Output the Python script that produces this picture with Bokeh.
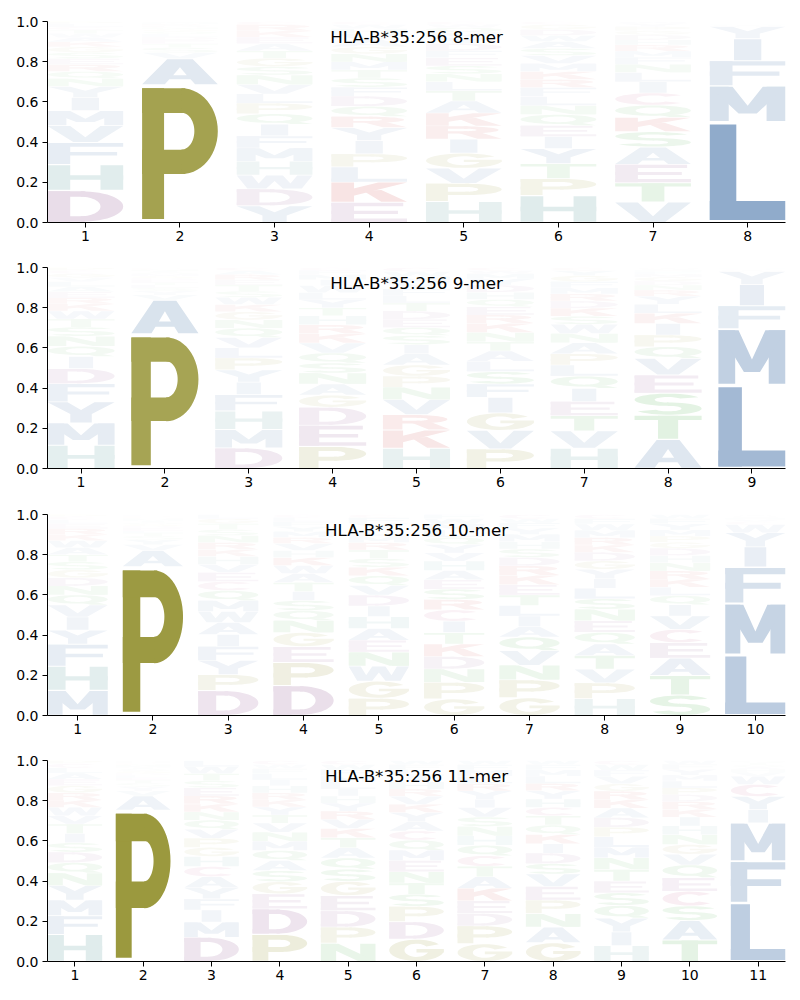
import math
from bokeh.plotting import figure
from bokeh.layouts import column
from bokeh.models import ColumnDataSource, FixedTicker, Range1d, NumeralTickFormatter
from bokeh.embed import file_html
from bokeh.resources import INLINE
from bokeh.core.properties import value

ALLELE = "HLA-B*35:256"

# ---------------- data (letters per position, probability per letter) ----------------
mer8_aa = [
    "DHFVMIYNQRESGKAWTCLP",
    "PAVSTEDLQGNRKMI",
    "YDWHMFIQPLVNSGTAEKRC",
    "EKLPIYQRDFSTMNGAVHWC",
    "HPVGIRKATLNSEFDYMQWC",
    "HPTYIEQNLFRKMVSAWDGC",
    "VTEASKQCILNFMRHDGPYW",
    "LMFIYWVHACQTKRS",
]
mer8_p = [
    [.16, .13, .11, .085, .075, .065, .055, .04, .035, .035, .03, .03, .028, .025, .022, .02, .018, .015, .015, .012],
    [.685, .13, .03, .025, .02, .018, .016, .014, .012, .011, .01, .009, .008, .007, .005],
    [.08, .08, .066, .066, .063, .058, .055, .05, .05, .045, .045, .045, .04, .04, .035, .035, .03, .03, .03, .015],
    [.10, .10, .075, .065, .065, .065, .05, .055, .05, .045, .045, .04, .04, .04, .035, .035, .03, .025, .02, .015],
    [.105, .09, .075, .075, .07, .065, .065, .06, .05, .045, .04, .04, .04, .035, .035, .03, .025, .025, .015, .015],
    [.135, .085, .075, .075, .06, .055, .055, .045, .045, .045, .04, .04, .04, .04, .035, .035, .03, .03, .025, .015],
    [.10, .095, .09, .085, .075, .07, .06, .06, .055, .045, .04, .035, .03, .03, .025, .025, .02, .02, .015, .01],
    [.50, .18, .125, .11, .06, .006, .004, .003, .002, .002, .002, .002, .002, .001, .001],
]

mer9_aa = [
    "HMYFDIQNSTWKREALVGCP",
    "PAVYSLTEDGMQINKR",
    "DMHFIYPLVQNGKWSTERAC",
    "PEDGANSQVKRHTYLWIMFC",
    "HKRVNPGAISQEDTLFYMWC",
    "PVGIFSLATNKREQHDYMWC",
    "HVTEIQLPANWSKDRMFGYC",
    "ATSEVQPIKLYRNDGMFHWC",
    "LMFIYWVCHAQ",
]
mer9_p = [
    [.115, .11, .105, .09, .075, .06, .05, .05, .045, .04, .04, .035, .03, .03, .025, .025, .02, .02, .015, .015],
    [.67, .17, .025, .02, .015, .015, .012, .012, .01, .01, .01, .008, .008, .007, .005, .005],
    [.10, .09, .09, .08, .06, .06, .058, .05, .05, .045, .04, .04, .035, .035, .03, .03, .025, .025, .02, .015],
    [.11, .105, .09, .06, .055, .055, .05, .05, .05, .045, .045, .045, .04, .04, .035, .035, .03, .025, .02, .015],
    [.10, .09, .075, .075, .06, .055, .055, .055, .045, .045, .04, .04, .04, .04, .035, .035, .03, .03, .025, .02],
    [.095, .09, .085, .075, .065, .06, .05, .05, .045, .045, .045, .04, .04, .035, .035, .035, .03, .025, .015, .015],
    [.10, .085, .075, .07, .065, .06, .055, .055, .055, .045, .045, .04, .04, .035, .035, .03, .03, .03, .025, .015],
    [.145, .12, .11, .09, .083, .058, .058, .058, .05, .045, .04, .03, .025, .02, .02, .015, .012, .01, .006, .005],
    [.415, .28, .115, .105, .065, .006, .004, .003, .003, .002, .002],
]

mer10_aa = [
    "MHFYIVQNDGSTAWKRELCP",
    "PAVYSTLEDGQIMNKRFH",
    "DPYFIAWMQCEVHKRNSTGL",
    "DPEGNQSITAWKHVRMYFLC",
    "PGWNEAHIDVQKSTRMLYFC",
    "GPNDKTICRSEAHVYQLMWF",
    "GPNVQAILTEKRDSHMYFWC",
    "HPVTAQENSLIYGDKRMWFC",
    "STAECVIQLKRNHDGPMYFW",
    "LMFIYWCVHAQT",
]
mer10_p = [
    [.125, .12, .11, .07, .065, .06, .05, .045, .04, .04, .04, .035, .035, .035, .03, .03, .025, .02, .015, .01],
    [.74, .08, .03, .025, .018, .015, .012, .012, .01, .01, .008, .008, .008, .006, .005, .005, .004, .004],
    [.125, .08, .07, .07, .06, .06, .055, .055, .05, .045, .045, .04, .04, .035, .035, .035, .03, .03, .025, .02],
    [.15, .115, .08, .07, .06, .05, .05, .045, .045, .045, .04, .04, .035, .035, .03, .03, .025, .025, .02, .015],
    [.08, .08, .07, .065, .055, .055, .055, .05, .05, .045, .045, .04, .04, .04, .035, .03, .03, .03, .025, .015],
    [.08, .08, .065, .06, .06, .055, .055, .055, .05, .05, .045, .045, .045, .04, .04, .035, .035, .03, .025, .02],
    [.085, .085, .07, .07, .065, .05, .05, .05, .05, .05, .045, .045, .04, .04, .035, .035, .03, .025, .02, .02],
    [.08, .075, .065, .065, .055, .055, .055, .055, .05, .05, .045, .045, .04, .04, .035, .035, .035, .03, .025, .02],
    [.10, .095, .085, .075, .065, .065, .055, .045, .04, .04, .04, .04, .035, .035, .03, .03, .03, .03, .025, .02],
    [.30, .255, .18, .10, .07, .04, .015, .01, .008, .006, .006, .005],
]

mer11_aa = [
    "HFMYNQDSITVWKRGEALCP",
    "PAVYSTELDGQIMNKRHF",
    "DMIFYACHGPVQNKRESTWL",
    "PDEGSAQMNVTYKRHILFWC",
    "NPDEGSQATKVRYHILMFWC",
    "GDPSTNEMQCAYKVRHILFW",
    "GPDEKATCQHNSVIYRLMFW",
    "GANPEVSDIKQTCHYRLMFW",
    "HIYQSETNMLPDAKRGVFWC",
    "TASCEQVGNHIKRDPLMYFW",
    "LFMIYCWVHAQTSN",
]
mer11_p = [
    [.13, .09, .075, .07, .06, .05, .05, .045, .045, .045, .04, .04, .035, .035, .035, .03, .03, .025, .02, .015],
    [.75, .07, .025, .02, .018, .015, .012, .012, .01, .01, .01, .008, .008, .007, .005, .005, .005, .005],
    [.12, .075, .06, .055, .055, .055, .05, .05, .045, .045, .045, .045, .04, .04, .04, .04, .035, .035, .035, .03],
    [.135, .125, .075, .06, .055, .05, .05, .045, .045, .045, .04, .04, .035, .035, .035, .03, .03, .025, .02, .02],
    [.09, .08, .08, .075, .07, .06, .055, .05, .05, .045, .045, .04, .04, .035, .035, .035, .03, .03, .025, .02],
    [.11, .085, .075, .06, .055, .055, .055, .05, .05, .045, .045, .045, .04, .04, .035, .035, .03, .03, .025, .02],
    [.085, .085, .06, .06, .06, .055, .05, .05, .05, .045, .045, .045, .045, .04, .04, .035, .035, .03, .025, .02],
    [.09, .075, .065, .065, .065, .06, .05, .05, .045, .045, .045, .045, .04, .04, .04, .035, .035, .03, .025, .02],
    [.075, .065, .065, .06, .06, .055, .055, .055, .05, .05, .045, .045, .045, .04, .04, .035, .035, .03, .025, .02],
    [.11, .10, .075, .075, .07, .065, .055, .05, .05, .045, .045, .04, .04, .035, .035, .035, .03, .03, .025, .02],
    [.29, .205, .19, .065, .065, .06, .04, .02, .015, .01, .01, .01, .008, .005],
]

# ---------------- colours ----------------
BASE = {
    "blue": (87, 128, 176),
    "olive": (154, 152, 61),
    "purple": (150, 92, 150),
    "teal": (80, 150, 150),
    "red": (200, 55, 55),
    "green": (70, 170, 70),
    "pink": (190, 80, 130),
}
GROUP = {}
for aa in "AVILMFWY":
    GROUP[aa] = "blue"
for aa in "GP":
    GROUP[aa] = "olive"
for aa in "DE":
    GROUP[aa] = "purple"
for aa in "KR":
    GROUP[aa] = "red"
for aa in "STNQ":
    GROUP[aa] = "green"
GROUP["H"] = "teal"
GROUP["C"] = "pink"


def blend(rgb, a):
    r, g, b = (round(255 - a * (255 - c)) for c in rgb)
    return "#%02x%02x%02x" % (r, g, b)


# ---------------- letter outlines in a unit box ----------------
def arc(cx, cy, rx, ry, a0, a1, n=28):
    out = []
    for k in range(n + 1):
        t = math.radians(a0 + (a1 - a0) * k / n)
        out.append((cx + rx * math.cos(t), cy + ry * math.sin(t)))
    return out


def band(cx, cy, rxo, ryo, rxi, ryi, a0, a1, n=28):
    return arc(cx, cy, rxo, ryo, a0, a1, n) + arc(cx, cy, rxi, ryi, a1, a0, n)


def rect(x0, y0, x1, y1):
    return [(x0, y0), (x1, y0), (x1, y1), (x0, y1)]


SHAPES = {
    "A": [([(0, 0), (0.33, 1), (0.67, 1), (1, 0), (0.7, 0), (0.64, 0.2), (0.36, 0.2), (0.3, 0)], False),
          ([(0.41, 0.36), (0.5, 0.68), (0.59, 0.36)], True)],
    "C": [(band(0.5, 0.5, 0.5, 0.5, 0.22, 0.31, 42, 318), False)],
    "D": [(rect(0, 0, 0.3, 1), False), (rect(0, 0.82, 0.5, 1), False), (rect(0, 0, 0.5, 0.18), False),
          (band(0.44, 0.5, 0.56, 0.5, 0.26, 0.32, -90, 90), False)],
    "E": [(rect(0, 0, 0.3, 1), False), (rect(0, 0.82, 0.95, 1), False), (rect(0, 0.42, 0.88, 0.59), False),
          (rect(0, 0, 1, 0.18), False)],
    "F": [(rect(0, 0, 0.3, 1), False), (rect(0, 0.82, 1, 1), False), (rect(0, 0.4, 0.92, 0.57), False)],
    "G": [(band(0.5, 0.5, 0.5, 0.5, 0.22, 0.31, 35, 360), False), (rect(0.5, 0.4, 1.0, 0.56), False)],
    "H": [(rect(0, 0, 0.3, 1), False), (rect(0.7, 0, 1, 1), False), (rect(0, 0.41, 1, 0.59), False)],
    "I": [(rect(0.32, 0, 0.68, 1), False)],
    "K": [(rect(0, 0, 0.3, 1), False), ([(0.28, 0.3), (1, 1), (0.62, 1), (0.28, 0.68)], False),
          ([(0.42, 0.58), (0.66, 0.62), (1, 0), (0.66, 0)], False)],
    "L": [(rect(0, 0, 0.35, 1), False), (rect(0, 0, 1, 0.2), False)],
    "M": [(rect(0, 0, 0.25, 1), False), (rect(0.75, 0, 1, 1), False),
          ([(0, 1), (0.3, 1), (0.5, 0.45), (0.7, 1), (1, 1), (0.62, 0.22), (0.38, 0.22)], False)],
    "N": [(rect(0, 0, 0.28, 1), False), (rect(0.72, 0, 1, 1), False), ([(0, 1), (0.32, 1), (1, 0), (0.68, 0)], False)],
    "P": [(rect(0, 0, 0.29, 1), False), (rect(0, 0.81, 0.57, 1), False), (rect(0, 0.345, 0.57, 0.53), False),
          (band(0.52, 0.672, 0.48, 0.328, 0.17, 0.141, -90, 90), False)],
    "Q": [(band(0.5, 0.56, 0.5, 0.44, 0.23, 0.27, 0, 360, 56), False),
          ([(0.55, 0.22), (0.82, 0.22), (1, 0), (0.72, 0)], False)],
    "R": [(rect(0, 0, 0.29, 1), False), (rect(0, 0.81, 0.55, 1), False), (rect(0, 0.42, 0.55, 0.6), False),
          (band(0.5, 0.71, 0.46, 0.29, 0.17, 0.105, -90, 90), False),
          ([(0.42, 0.48), (0.72, 0.5), (1, 0), (0.68, 0)], False)],
    "S": [(band(0.5, 0.71, 0.5, 0.29, 0.2, 0.13, 25, 272), False),
          (band(0.5, 0.29, 0.5, 0.29, 0.2, 0.13, -155, 92), False)],
    "T": [(rect(0, 0.82, 1, 1), False), (rect(0.35, 0, 0.65, 1), False)],
    "V": [([(0, 1), (0.3, 1), (0.5, 0.3), (0.7, 1), (1, 1), (0.66, 0), (0.34, 0)], False)],
    "W": [([(0, 1), (0.2, 1), (0.29, 0.38), (0.39, 1), (0.61, 1), (0.71, 0.38), (0.8, 1), (1, 1), (0.86, 0),
            (0.61, 0), (0.5, 0.58), (0.39, 0), (0.14, 0)], False)],
    "Y": [([(0, 1), (0.3, 1), (0.5, 0.62), (0.7, 1), (1, 1), (0.66, 0.42), (0.66, 0), (0.34, 0), (0.34, 0.42)], False)],
}


def make_panel(cols_aa, cols_p, kmer, height, bottom):
    n = len(cols_aa)
    xs, ys, cs = [], [], []
    for i, (letters, probs) in enumerate(zip(cols_aa, cols_p)):
        pos = i + 1
        tot = sum(probs)
        items = sorted(zip(letters, [q / tot for q in probs]), key=lambda t: -t[1])
        y = 0.0
        for aa, h in items:
            a = min(1.0, 1.32 * h)
            col = blend(BASE[GROUP[aa]], a)
            gy0 = y + 0.025 * h
            gh = 0.95 * h
            for pts, hole in SHAPES[aa]:
                xs.append([pos - 0.4 + u * 0.8 for u, v in pts])
                ys.append([gy0 + v * gh for u, v in pts])
                cs.append("#ffffff" if hole else col)
            y += h
    src = ColumnDataSource(dict(xs=xs, ys=ys, color=cs))
    p = figure(width=800, height=height, x_range=Range1d(0.6, n + 0.4), y_range=Range1d(0, 1),
               output_backend="svg", toolbar_location=None,
               min_border_left=47, min_border_right=15, min_border_top=21, min_border_bottom=bottom)
    p.patches(xs="xs", ys="ys", fill_color="color", line_color=None, source=src)
    p.text(x=[(n + 1) / 2], y=[0.925], text=[f"{ALLELE} {kmer}-mer"], text_align="center",
           text_baseline="middle", text_font=value("DejaVu Sans"), text_font_size=value("16.7px"),
           text_color="black")
    p.xgrid.visible = False
    p.ygrid.visible = False
    p.outline_line_color = None
    p.background_fill_color = "white"
    p.xaxis.ticker = FixedTicker(ticks=list(range(1, n + 1)))
    p.yaxis.ticker = FixedTicker(ticks=[0, 0.2, 0.4, 0.6, 0.8, 1.0])
    p.yaxis.formatter = NumeralTickFormatter(format="0.0")
    for ax in (p.xaxis, p.yaxis):
        ax.minor_tick_line_color = None
        ax.major_tick_in = 0
        ax.major_tick_out = 5
        ax.major_label_text_font = "DejaVu Sans"
        ax.major_label_text_font_size = "14px"
        ax.major_label_text_color = "black"
        ax.axis_line_color = "black"
        ax.major_tick_line_color = "black"
    p.xaxis.major_label_standoff = 3
    p.yaxis.major_label_standoff = 4
    return p


p1 = make_panel(mer8_aa, mer8_p, 8, 246, 24)
p2 = make_panel(mer9_aa, mer9_p, 9, 247, 25)
p3 = make_panel(mer10_aa, mer10_p, 10, 246, 24)
p4 = make_panel(mer11_aa, mer11_p, 11, 247, 25)

layout = column(p1, p2, p3, p4, spacing=0)
open("out.html", "w").write(file_html(layout, INLINE))
